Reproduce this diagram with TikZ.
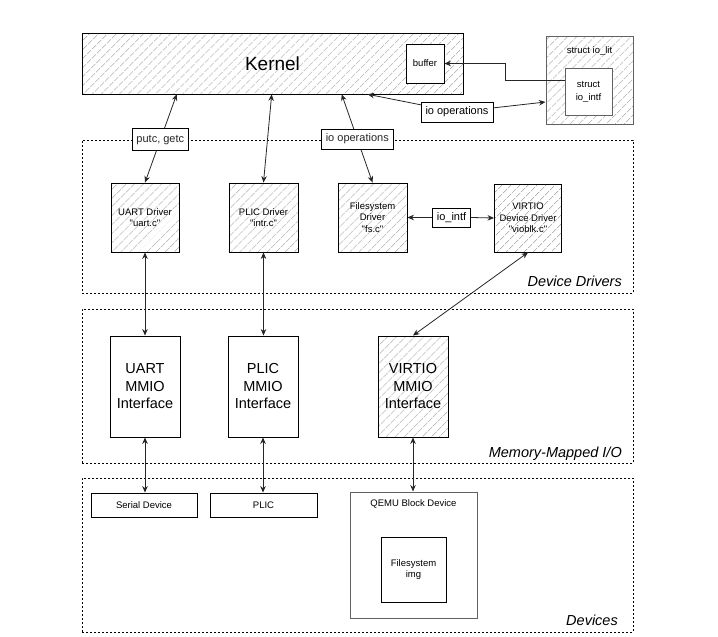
\documentclass[tikz,border=0pt]{standalone}
\usepackage{fontspec}
\setmainfont{Liberation Sans}[Ligatures=TeXOff]
\usetikzlibrary{patterns.meta,arrows.meta,calc}
\tikzset{
  hatch/.style={pattern={Lines[angle=45,distance=6.5pt,line width=0.6pt]}, pattern color=black!45},
  box/.style={draw=black, line width=0.9pt, inner sep=0pt, align=center, font=\fontsize{9.5}{11.5}\selectfont},
  graybox/.style={box, draw=black!62, line width=1pt},
  bigtext/.style={font=\fontsize{14.5}{17.5}\selectfont},
  region/.style={draw=black, line width=0.6pt, dash pattern=on 2pt off 2pt, inner sep=0pt},
  regtext/.style={font=\fontsize{14.5}{17}\selectfont\itshape, inner sep=0pt},
  lbl/.style={draw=black, line width=0.9pt, fill=white, inner xsep=4.5pt, inner ysep=0pt, minimum height=20pt, font=\fontsize{11}{13}\selectfont},
  smalltxt/.style={inner sep=0pt, font=\fontsize{9.5}{11.5}\selectfont},
  conn/.style={line width=0.8pt, black!85},
}
\begin{document}
\begin{tikzpicture}[x=1pt,y=-1pt,>={Stealth[length=6.5pt,width=5.5pt]}]
\useasboundingbox (0,0) rectangle (718,637);
% regions
\node[region, minimum width=551pt, minimum height=153pt] (drvreg) at (357.5,216.5) {};
\node[region, minimum width=551pt, minimum height=154pt] (mmioreg) at (357.5,386) {};
\node[region, minimum width=551pt, minimum height=154pt] (devreg) at (357.5,555) {};
\node[regtext, anchor=base east] (drvtxt) at (622,286) {Device Drivers};
\node[regtext, anchor=base east] (mmiotxt) at (622,457) {Memory-Mapped I/O};
\node[regtext, anchor=base east] (devtxt) at (618,625) {Devices};
% kernel
\node[box, hatch, minimum width=381pt, minimum height=61pt, font=\fontsize{19}{22}\selectfont] (kern) at (272.5,63.5) {Kernel};
\node[box, fill=white, minimum width=38pt, minimum height=39pt] (buf) at (425,63.5) {buffer};
% io_lit
\node[graybox, hatch, minimum width=87pt, minimum height=88pt] (iolit) at (589.5,80) {};
\node[smalltxt] (iolittxt) at (589.5,51) {struct io\_lit};
\node[graybox, fill=white, minimum width=47pt, minimum height=47pt, font=\fontsize{9.5}{13}\selectfont] (iointf) at (588.5,91.5) {struct\\io\_intf};
% drivers
\node[box, hatch, minimum width=68pt, minimum height=69pt] (uartd) at (145,217.5) {UART Driver\\"uart.c"};
\node[box, hatch, minimum width=69pt, minimum height=69pt] (plicd) at (263.5,217.5) {PLIC Driver\\"intr.c"};
\node[box, hatch, minimum width=69pt, minimum height=69pt] (fsd) at (372.5,217.5) {Filesystem\\Driver\\"fs.c"};
\node[box, hatch, minimum width=67pt, minimum height=68pt] (vd) at (528,218) {VIRTIO\\Device Driver\\"vioblk.c"};
\node[lbl, minimum height=19pt] (ioilbl) at (451.5,217.5) {io\_intf};
% mmio
\node[box, bigtext, minimum width=70pt, minimum height=101pt] (umm) at (145,386.5) {UART\\MMIO\\Interface};
\node[box, bigtext, minimum width=70pt, minimum height=101pt] (pmm) at (263,386.5) {PLIC\\MMIO\\Interface};
\node[box, bigtext, hatch, minimum width=70pt, minimum height=101pt] (vmm) at (413,386.5) {VIRTIO\\MMIO\\Interface};
% devices
\node[box, minimum width=106pt, minimum height=24pt] (ser) at (144,505) {Serial Device};
\node[box, minimum width=107pt, minimum height=24pt] (plic) at (263.5,505) {PLIC};
\node[graybox, minimum width=127pt, minimum height=126pt] (qemu) at (413.5,555) {};
\node[smalltxt] (qemutxt) at (413.5,504) {QEMU Block Device};
\node[box, minimum width=65pt, minimum height=65pt] (fsimg) at (413.5,569.5) {Filesystem\\img};
% connectors
\draw[conn,<->] ([xshift=95pt]kern.south west) -- node[lbl,pos=0.517,minimum height=22pt] (lputc) {putc, getc} (uartd.north);
\draw[conn,<->] ([xshift=190pt]kern.south west) -- (plicd.north);
\draw[conn,<->] ([xshift=260pt]kern.south west) -- node[lbl,pos=0.506] (lioop2) {io operations} (fsd.north);
\coordinate (mid1) at (457,112);
\draw[conn,<->] ([xshift=286pt]kern.south west) -- (mid1) -- ([yshift=-22pt]iolit.west);
\node[lbl] (lioop1) at (mid1) {io operations};
\draw[conn,->] ([yshift=11.5pt]iointf.west) -- ++(-59,0) |- (buf.east);
\draw[conn,->] (ioilbl.west) -- (fsd.east);
\draw[conn,->] (ioilbl.east) -- (vd.west);
\draw[conn,<->] (vd.south) -- (vmm.north);
\draw[conn,<->] (uartd.south) -- (umm.north);
\draw[conn,<->] (plicd.south) -- (plicd.south |- pmm.north);
\draw[conn,<->] (umm.south) -- (umm.south |- ser.north);
\draw[conn,<->] (pmm.south) -- (pmm.south |- plic.north);
\draw[conn,<->] (vmm.south) -- (vmm.south |- qemu.north);
\end{tikzpicture}
\end{document}
